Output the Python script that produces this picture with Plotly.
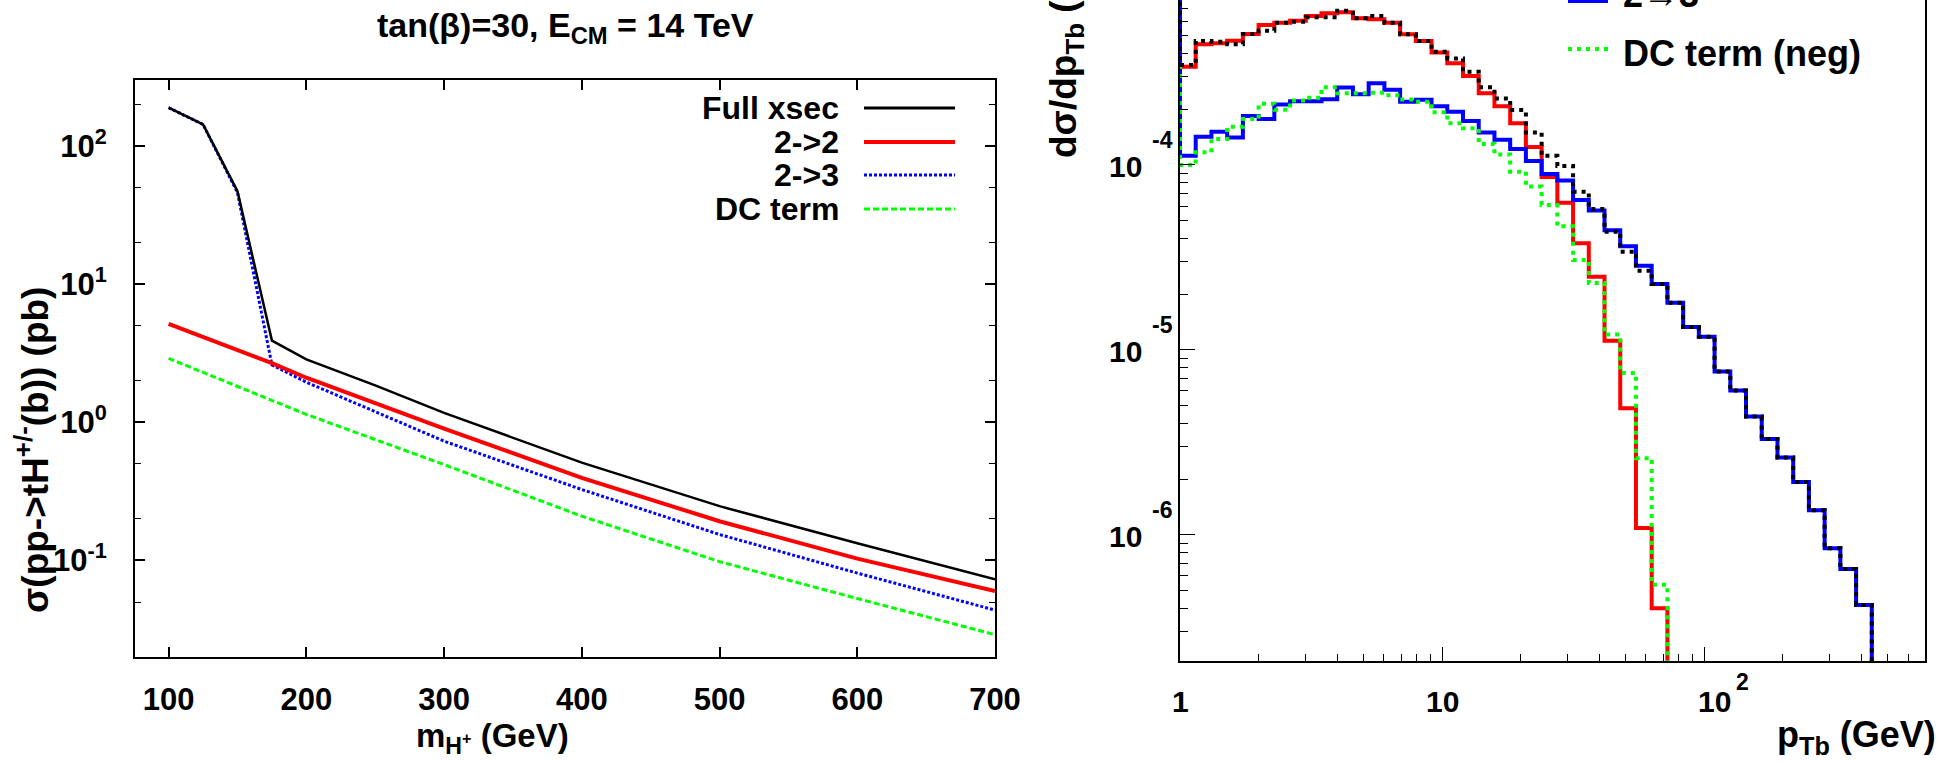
import numpy as np
import plotly.graph_objects as go

W, H = 1942, 762

# ---------------- Left panel data (cross sections in pb) ----------------
mass = [100, 125, 150, 175, 200, 250, 300, 400, 500, 600, 700]
xsec_full = [189, 143, 47, 3.9, 2.85, 1.85, 1.17, 0.51, 0.247, 0.133, 0.073]
xsec_22 = [5.16, 4.15, 3.34, 2.68, 2.1, 1.37, 0.90, 0.396, 0.192, 0.103, 0.060]
xsec_23 = [189, 143, 46, 2.6, 1.95, 1.2, 0.73, 0.326, 0.154, 0.081, 0.0437]
xsec_dc = [2.9, 2.3, 1.82, 1.43, 1.14, 0.75, 0.494, 0.209, 0.098, 0.053, 0.029]
left_xticks = [100, 200, 300, 400, 500, 600, 700]
left_yticks = [0.1, 1, 10, 100]
left_yticktext = ["10<sup>-1</sup>", "10<sup>0</sup>", "10<sup>1</sup>", "10<sup>2</sup>"]

# ---------------- Right panel data (dsigma/dpTb per bin) ----------------
n_edges = 45
pt_edges = [10 ** (0.06 * i) for i in range(n_edges)]

h_full = [3.47e-4, 4.68e-4, 4.64e-4, 4.49e-4, 5.11e-4, 5.32e-4, 5.88e-4, 5.95e-4, 6.29e-4, 6.29e-4,
          6.82e-4, 6.21e-4, 6.39e-4, 5.88e-4, 5.09e-4, 4.68e-4, 4.10e-4, 3.77e-4, 3.19e-4, 2.63e-4,
          2.29e-4, 1.98e-4, 1.50e-4, 1.12e-4, 9.88e-5, 7.17e-5, 5.78e-5, 4.36e-5, 3.40e-5, 2.68e-5,
          2.27e-5, 1.80e-5, 1.33e-5, 1.18e-5, 7.64e-6, 6.03e-6, 4.36e-6, 3.30e-6, 2.62e-6, 1.93e-6,
          1.36e-6, 8.47e-7, 6.53e-7, 4.18e-7]
h_22 = [3.40e-4, 4.49e-4, 4.55e-4, 4.70e-4, 5.11e-4, 5.71e-4, 5.88e-4, 6.03e-4, 6.39e-4, 6.61e-4,
        6.69e-4, 6.21e-4, 6.13e-4, 5.88e-4, 5.09e-4, 4.68e-4, 4.06e-4, 3.55e-4, 3.03e-4, 2.44e-4,
        2.08e-4, 1.68e-4, 1.25e-4, 8.61e-5, 6.25e-5, 3.77e-5, 2.49e-5, 1.12e-5, 4.84e-6, 1.09e-6,
        4.01e-7]
h_23 = [1.12e-4, 1.42e-4, 1.51e-4, 1.41e-4, 1.84e-4, 1.77e-4, 2.12e-4, 2.21e-4, 2.21e-4, 2.27e-4,
        2.62e-4, 2.41e-4, 2.77e-4, 2.55e-4, 2.20e-4, 2.25e-4, 2.08e-4, 1.94e-4, 1.73e-4, 1.50e-4,
        1.37e-4, 1.22e-4, 1.05e-4, 8.94e-5, 8.25e-5, 6.47e-5, 5.68e-5, 4.43e-5, 3.64e-5, 2.85e-5,
        2.27e-5, 1.80e-5, 1.33e-5, 1.18e-5, 7.64e-6, 6.03e-6, 4.36e-6, 3.30e-6, 2.62e-6, 1.93e-6,
        1.36e-6, 8.47e-7, 6.53e-7, 4.18e-7]
h_dc = [1.00e-4, 1.17e-4, 1.38e-4, 1.61e-4, 1.77e-4, 2.14e-4, 1.99e-4, 2.23e-4, 2.31e-4, 2.63e-4,
        2.44e-4, 2.44e-4, 2.46e-4, 2.38e-4, 2.26e-4, 2.20e-4, 1.93e-4, 1.68e-4, 1.58e-4, 1.30e-4,
        1.14e-4, 9.20e-5, 7.64e-5, 6.08e-5, 4.66e-5, 3.06e-5, 2.30e-5, 1.21e-5, 7.51e-6, 2.60e-6,
        5.37e-7]
right_xtick_exp = [0, 1, 2]      # 1, 10, 10^2
right_ytick_exp = [-6, -5, -4]   # 10^-6 ... 10^-4

FONT = "Liberation Sans"


def px(x):
    return x / W


def py(y):
    return 1 - y / H


def step_xy(vals, top=1e-2, bottom=1e-8):
    n = len(vals)
    xs = [pt_edges[0]] + pt_edges[:n] + [pt_edges[n]]
    ys = [top] + list(vals) + [bottom]
    return xs, ys


fig = go.Figure()

# ---- left panel curves ----
fig.add_trace(go.Scatter(x=mass, y=xsec_dc, mode="lines", line=dict(color="#00ff00", width=3, dash="6px,3px"),
                         xaxis="x", yaxis="y", showlegend=False))
fig.add_trace(go.Scatter(x=mass, y=xsec_23, mode="lines", line=dict(color="#0000ff", width=3, dash="3px,2px"),
                         xaxis="x", yaxis="y", showlegend=False))
fig.add_trace(go.Scatter(x=mass, y=xsec_22, mode="lines", line=dict(color="#ff0000", width=4),
                         xaxis="x", yaxis="y", showlegend=False))
fig.add_trace(go.Scatter(x=mass, y=xsec_full, mode="lines", line=dict(color="black", width=2.5),
                         xaxis="x", yaxis="y", showlegend=False))

# ---- right panel histograms ----
for vals, col, dash in [(h_22, "#ff0000", "solid"), (h_23, "#0000ff", "solid"),
                        (h_dc, "#00ff00", "4px,5px"), (h_full, "black", "4px,5px")]:
    xs, ys = step_xy(vals)
    fig.add_trace(go.Scatter(x=xs, y=ys, mode="lines", line=dict(color=col, width=4, dash=dash, shape="hv"),
                             xaxis="x2", yaxis="y2", showlegend=False, cliponaxis=True))

tf_left = dict(family=FONT, size=31, color="black", weight="bold")

fig.update_layout(
    template="none",
    width=W, height=H, autosize=False,
    margin=dict(l=0, r=0, t=0, b=0, pad=0),
    paper_bgcolor="white", plot_bgcolor="white",
    showlegend=False,
    xaxis=dict(domain=[px(135), px(995)], range=[75.6, 700], anchor="y", automargin=False,
               tickvals=left_xticks,
               ticks="inside", ticklen=10, tickwidth=1.5, tickcolor="black",
               showline=True, linewidth=2, linecolor="black", mirror="ticks",
               showgrid=False, zeroline=False, tickfont=tf_left, ticklabelstandoff=14),
    yaxis=dict(domain=[py(657), py(80)], type="log", range=[np.log10(0.02), np.log10(300)], anchor="x",
               automargin=False,
               tickvals=left_yticks, ticktext=left_yticktext,
               ticks="inside", ticklen=10, tickwidth=1.5, tickcolor="black",
               minor=dict(tickvals=[0.02, 0.05, 0.2, 0.5, 2, 5, 20, 50, 200], ticks="inside",
                          ticklen=6, tickwidth=1.2, tickcolor="black", showgrid=False),
               showline=True, linewidth=2, linecolor="black", mirror="ticks",
               showgrid=False, zeroline=False, tickfont=tf_left, ticklabelstandoff=20),
    xaxis2=dict(domain=[px(1180), px(1925)], type="log", range=[0, 2.843], anchor="y2", automargin=False,
                tickvals=[10 ** e for e in right_xtick_exp], showticklabels=False,
                ticks="inside", ticklen=14, tickwidth=1.2, tickcolor="black",
                minor=dict(tickvals=[2, 3, 4, 5, 6, 7, 8, 9, 20, 30, 40, 50, 60, 70, 80, 90,
                                     200, 300, 400, 500, 600],
                           ticks="inside", ticklen=7, tickwidth=1, tickcolor="black", showgrid=False),
                showline=True, linewidth=1.5, linecolor="black", mirror=False,
                showgrid=False, zeroline=False),
    yaxis2=dict(domain=[py(661), 1.0], type="log", range=[np.log10(2.08e-7), -3.108], anchor="x2",
                automargin=False,
                tickvals=[10.0 ** e for e in right_ytick_exp], showticklabels=False,
                ticks="inside", ticklen=15, tickwidth=1.2, tickcolor="black",
                minor=dict(tickvals=[k * 10.0 ** e for e in (-7, -6, -5, -4) for k in range(2, 10)],
                           ticks="inside", ticklen=8, tickwidth=1, tickcolor="black", showgrid=False),
                showline=True, linewidth=1.5, linecolor="black", mirror=True,
                showgrid=False, zeroline=False),
)

ann = []
tf = dict(family=FONT, color="black", weight="bold")

# Left title
ann.append(dict(text="tan(β)=30, E<sub>CM</sub> = 14 TeV", x=px(565), y=py(27), xref="paper", yref="paper",
                showarrow=False, xanchor="center", yanchor="middle", font=dict(tf, size=34)))
# Left axis titles
ann.append(dict(text="m<sub>H<sup>+</sup></sub> (GeV)", x=px(492), y=py(738), xref="paper", yref="paper",
                showarrow=False, xanchor="center", yanchor="middle", font=dict(tf, size=33)))
ann.append(dict(text="σ(pp->tH<sup>+/-</sup>(b)) (pb)", x=px(33), y=py(450), xref="paper", yref="paper",
                showarrow=False, xanchor="center", yanchor="middle", textangle=-90, font=dict(tf, size=37)))

# Left legend
leg_rows = [("Full xsec", "black", 3, "solid", 108), ("2->2", "#ff0000", 4, "solid", 142),
            ("2->3", "#0000ff", 3, "3px,2px", 175), ("DC term", "#00ff00", 3, "6px,3px", 209)]
shapes = []
for label, col, wdt, dash, yy in leg_rows:
    ann.append(dict(text=label, x=px(841), y=py(yy), xref="paper", yref="paper", showarrow=False,
                    xanchor="right", yanchor="middle", font=dict(tf, size=32)))
    shapes.append(dict(type="line", xref="paper", yref="paper", x0=px(864), x1=px(955), y0=py(yy), y1=py(yy),
                       line=dict(color=col, width=wdt, dash=dash)))

# Right panel tick labels (ROOT style: base + raised exponent)
for e in right_ytick_exp:
    ann.append(dict(text="10", x=px(1125), y=e, xref="paper", yref="y2", yshift=-2, showarrow=False,
                    xanchor="center", yanchor="middle", font=dict(tf, size=30)))
    ann.append(dict(text=str(e), x=px(1150), y=e, xref="paper", yref="y2", yshift=25, showarrow=False,
                    xanchor="left", yanchor="middle", font=dict(tf, size=23)))
for e in right_xtick_exp:
    base = "1" if e == 0 else "10"
    ann.append(dict(text=base, x=e, y=py(701), xref="x2", yref="paper", xshift=(10 if e == 2 else 0),
                    showarrow=False, xanchor="center", yanchor="middle", font=dict(tf, size=30)))
    if e >= 2:
        ann.append(dict(text=str(e), x=e, y=py(682), xref="x2", yref="paper", xshift=30, showarrow=False,
                        xanchor="left", yanchor="middle", font=dict(tf, size=23)))

# Right axis titles
ann.append(dict(text="p<sub>Tb</sub> (GeV)", x=px(1938), y=py(737), xref="paper", yref="paper",
                showarrow=False, xanchor="right", yanchor="middle", font=dict(tf, size=36)))
ann.append(dict(text="dσ/dp<sub>Tb</sub> (pb/GeV)", x=px(1066), y=py(160), xref="paper", yref="paper",
                showarrow=False, xanchor="center", yanchor="bottom", textangle=-90, font=dict(tf, size=37)))

# Right legend (partially cut at top)
ann.append(dict(text="2→3", x=px(1621), y=py(-6), xref="paper", yref="paper", showarrow=False,
                xanchor="left", yanchor="middle", font=dict(tf, size=36)))
shapes.append(dict(type="line", xref="paper", yref="paper", x0=px(1568), x1=px(1608), y0=py(1), y1=py(1),
                   line=dict(color="#0000ff", width=4)))
ann.append(dict(text="DC term (neg)", x=px(1621), y=py(54), xref="paper", yref="paper", showarrow=False,
                xanchor="left", yanchor="middle", font=dict(tf, size=36)))
shapes.append(dict(type="line", xref="paper", yref="paper", x0=px(1568), x1=px(1608), y0=py(49), y1=py(49),
                   line=dict(color="#00ff00", width=4, dash="4px,5px")))

fig.update_layout(annotations=ann, shapes=shapes)

fig.write_html("out.html", config={"displayModeBar": False, "responsive": False},
               post_script="document.body.style.margin='0';document.body.style.overflow='hidden';")
